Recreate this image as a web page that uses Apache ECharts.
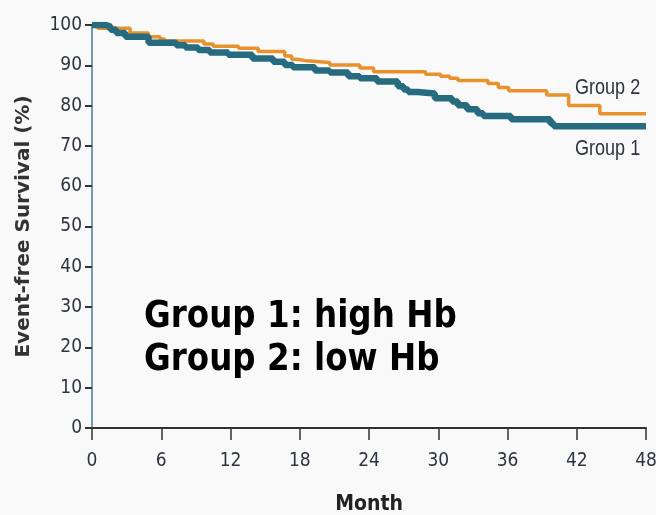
<!DOCTYPE html>
<html>
<head>
<meta charset="utf-8">
<script src="https://cdn.jsdelivr.net/npm/echarts@6/dist/echarts.min.js"></script>
<style>
  html, body { margin: 0; padding: 0; background: #f9f9f9; overflow: hidden; }
  #chart { position: fixed; left: 0; top: 0; width: 656px; height: 515px; }
</style>
</head>
<body>
<div id="chart"></div>
<script>
// Kaplan–Meier event-free survival, step starts (month, %)
const g1Months = [0, 1.2, 1.6, 2.1, 2.9, 4.9, 7.3, 8.1, 9.2, 10.2, 11.8, 13.9, 15.7, 16.7, 17.4, 19.3, 20.6, 22.2, 23.2, 24.7, 26.5, 27.0, 27.4, 28.2, 29.7, 31.2, 31.7, 32.5, 33.4, 33.9, 36.3, 39.7, 40.0, 48];
const g1Surv   = [100, 99.6, 98.8, 98.0, 97.1, 95.6, 95.0, 94.4, 93.8, 93.2, 92.6, 91.7, 90.9, 90.1, 89.5, 88.7, 88.2, 87.3, 86.8, 86.0, 84.8, 84.0, 83.4, 83.0, 81.8, 81.0, 80.1, 79.1, 78.1, 77.4, 76.6, 75.6, 74.9, 74.9];

const g2Months = [0, 0.5, 3.3, 4.9, 5.9, 6.3, 9.7, 10.5, 12.7, 14.4, 16.7, 17.3, 17.8, 18.6, 20.6, 23.2, 24.4, 28.9, 30.2, 31.0, 31.7, 34.3, 35.2, 36.1, 39.4, 41.3, 44.0, 48];
const g2Surv   = [100, 99.2, 98.0, 97.1, 96.5, 96.0, 95.3, 94.7, 94.2, 93.4, 92.3, 91.5, 91.1, 90.7, 90.1, 89.3, 88.4, 87.8, 87.3, 86.8, 86.2, 85.5, 84.5, 83.7, 82.6, 80.0, 78.0, 78.0];

const xTicks = [0, 6, 12, 18, 24, 30, 36, 42, 48];
const yTicks = [0, 10, 20, 30, 40, 50, 60, 70, 80, 90, 100];

const groupNames = ['Group 1', 'Group 2'];
const legendLines = ['Group 1: high Hb', 'Group 2: low Hb'];

const pair = (xs, ys) => xs.map((x, i) => [x, ys[i]]);

const narrow = "'DejaVu Sans Condensed', 'Liberation Sans', sans-serif";

const chart = echarts.init(document.getElementById('chart'), null, { renderer: 'canvas', width: 656, height: 515 });

chart.setOption({
  animation: false,
  backgroundColor: '#f9f9f9',
  grid: { left: 92, right: 10, top: 25, bottom: 87, containLabel: false, outerBoundsMode: 'none' },
  xAxis: {
    type: 'value',
    min: xTicks[0],
    max: xTicks[xTicks.length - 1],
    interval: 6,
    name: 'Month',
    nameLocation: 'middle',
    nameGap: 66,
    nameTextStyle: { fontFamily: narrow, fontSize: 21, fontWeight: 'bold', color: '#222' },
    axisLine: { lineStyle: { color: '#333', width: 2 } },
    axisTick: { show: true, length: 12, lineStyle: { color: '#333', width: 1.5 } },
    axisLabel: { fontFamily: narrow, fontSize: 19, color: '#2e3440', margin: 24 },
    splitLine: { show: false }
  },
  yAxis: {
    type: 'value',
    min: yTicks[0],
    max: yTicks[yTicks.length - 1],
    interval: 10,
    name: 'Event-free Survival (%)',
    nameLocation: 'middle',
    nameRotate: 90,
    nameGap: 58,
    nameTextStyle: { fontFamily: "'DejaVu Sans', sans-serif", fontSize: 20, fontWeight: 'bold', color: '#333' },
    axisLine: { show: true, lineStyle: { color: '#6f9aab', width: 2 } },
    axisTick: { show: true, length: 7, lineStyle: { color: '#333', width: 2 } },
    axisLabel: { fontFamily: narrow, fontSize: 19, color: '#2e3440', margin: 10 },
    splitLine: { show: false }
  },
  series: [
    {
      name: groupNames[1],
      type: 'line',
      step: 'end',
      showSymbol: false,
      data: pair(g2Months, g2Surv),
      lineStyle: { color: '#e8922e', width: 3.5 },
      z: 2
    },
    {
      name: groupNames[0],
      type: 'line',
      step: 'end',
      showSymbol: false,
      data: pair(g1Months, g1Surv),
      lineStyle: { color: '#276b7f', width: 6.5 },
      z: 3
    }
  ],
  graphic: [
    {
      type: 'text', x: 575, y: 88, scaleX: 0.82,
      style: { text: groupNames[1], font: "22px 'Liberation Sans', sans-serif", fill: '#2f3340', verticalAlign: 'middle' }
    },
    {
      type: 'text', x: 575, y: 149, scaleX: 0.82,
      style: { text: groupNames[0], font: "22px 'Liberation Sans', sans-serif", fill: '#2f3340', verticalAlign: 'middle' }
    },
    {
      type: 'text', x: 144, y: 317, scaleX: 0.88,
      style: { text: legendLines[0], font: "bold 37px 'DejaVu Sans', sans-serif", fill: '#000', verticalAlign: 'middle' }
    },
    {
      type: 'text', x: 144, y: 360, scaleX: 0.88,
      style: { text: legendLines[1], font: "bold 37px 'DejaVu Sans', sans-serif", fill: '#000', verticalAlign: 'middle' }
    }
  ]
});
</script>
</body>
</html>
